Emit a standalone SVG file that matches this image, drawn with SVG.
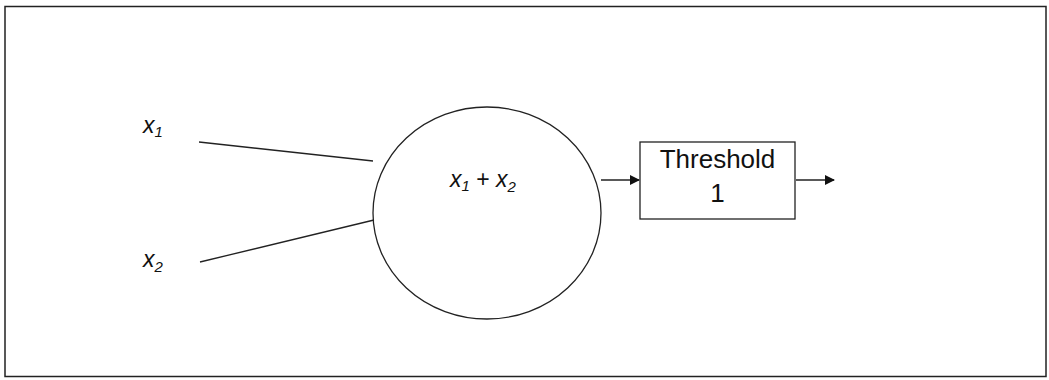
<svg xmlns="http://www.w3.org/2000/svg" width="1049" height="380" viewBox="0 0 1049 380">
<defs>
<style>
.ln{stroke:#222;stroke-width:1.3;fill:none}
.t{font-family:"Liberation Sans",Arial,sans-serif;font-size:23px;fill:#111}
.v{font-style:italic}
.s{font-size:15px;font-style:italic}
.b{font-size:26px}
</style>
<marker id="ah" markerWidth="10" markerHeight="10" refX="9" refY="5" orient="auto" markerUnits="userSpaceOnUse">
<path d="M0,0 L10,5 L0,10 z" fill="#111"/>
</marker>
</defs>
<rect width="1049" height="380" fill="#fff"/>
<rect x="5" y="6.5" width="1041" height="370" fill="none" stroke="#222" stroke-width="1.5"/>
<g id="connectors">
<line class="ln" x1="199" y1="142" x2="373" y2="161"/>
<line class="ln" x1="200" y1="262" x2="374" y2="220"/>
<line class="ln" x1="601" y1="180" x2="639" y2="180" stroke-width="1.6" marker-end="url(#ah)"/>
<line class="ln" x1="796" y1="180" x2="834" y2="180" stroke-width="1.6" marker-end="url(#ah)"/>
</g>
<g id="x1"><text class="t v" x="143" y="133">x<tspan class="s" dy="4">1</tspan></text></g>
<g id="x2"><text class="t v" x="143" y="267">x<tspan class="s" dy="5">2</tspan></text></g>
<g id="sum">
<ellipse class="ln" cx="487" cy="213" rx="114" ry="106"/>
<text class="t" x="450" y="187"><tspan class="v">x</tspan><tspan class="s" dy="4">1</tspan><tspan dy="-4" xml:space="preserve"> + </tspan><tspan class="v">x</tspan><tspan class="s" dy="5">2</tspan></text>
</g>
<g id="threshold">
<rect class="ln" x="640" y="142" width="155" height="77"/>
<text class="t b" x="717.5" y="168" text-anchor="middle">Threshold</text>
<text class="t b" x="717.5" y="202" text-anchor="middle">1</text>
</g>
</svg>
